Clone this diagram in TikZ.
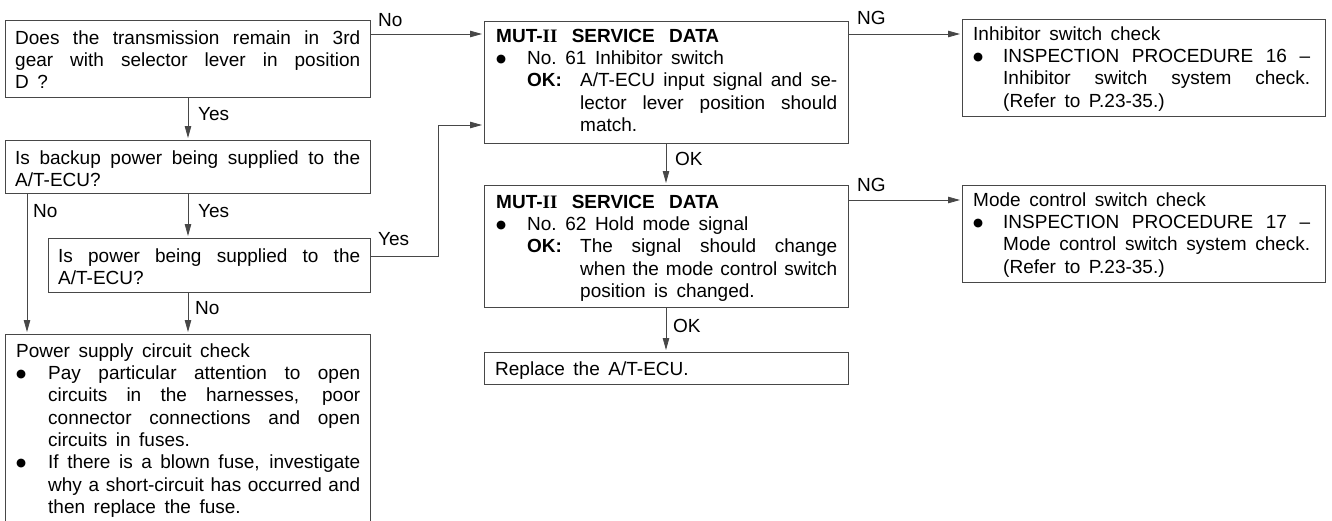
\documentclass[tikz,border=0pt]{standalone}
\usepackage{fontspec}
\setmainfont{Liberation Sans}
\newfontfamily\serifrm{Liberation Serif}
\newfontfamily\dejavu{DejaVu Sans}
\usetikzlibrary{arrows.meta}
\newcommand\jl[2]{{\spaceskip=0.2em plus 1fil minus 0.05em\xspaceskip=\spaceskip\makebox[#1][s]{#2}}}
\newcommand\bulg{\raisebox{2.3pt}{\dejavu\fontsize{11.5}{12}\selectfont ●}}
\newcommand\bl[2]{\makebox[#1][l]{\bulg}#2}
\newcommand\wsp{\spaceskip=0.45em plus 0.2em minus 0.1em\xspaceskip=\spaceskip}
\newcommand\ts{\wsp\rule{0pt}{14pt}}
\newcommand\mut{\textbf{MUT-{\serifrm II} SERVICE DATA}}
\begin{document}
\begin{tikzpicture}[x=1pt,y=-1pt,
  box/.style={draw=black!72, line width=0.8pt, inner sep=0pt, anchor=north west},
  txt/.style={anchor=north west, inner sep=0pt, text width=#1, align=left,
    font=\fontsize{19}{22.3}\selectfont},
  lbl/.style={anchor=base west, inner sep=0pt, font=\fontsize{19}{22.3}\selectfont},
  arr/.style={draw=black!72, line width=0.8pt, shorten >=2pt, -{Triangle[length=12pt,width=6.5pt]}}]
\useasboundingbox (0,0) rectangle (1332,520);

% boxes
\node[box, minimum width=365pt, minimum height=77pt] (b1) at (5,20) {};
\node[box, minimum width=365pt, minimum height=53pt] (b2) at (5,140) {};
\node[box, minimum width=322pt, minimum height=54pt] (b3) at (48,238) {};
\node[box, minimum width=365pt, minimum height=200pt] (pw) at (5,334) {};
\node[box, minimum width=364pt, minimum height=122pt] (b4) at (484,21) {};
\node[box, minimum width=364pt, minimum height=122pt] (b5) at (484,185) {};
\node[box, minimum width=364pt, minimum height=32pt] (b8) at (484,352) {};
\node[box, minimum width=363pt, minimum height=97pt] (b6) at (962,19) {};
\node[box, minimum width=363pt, minimum height=97pt] (b7) at (962,185) {};

% texts
\node[txt=345pt] (t1) at (15,30) {\ts\jl{345pt}{Does the transmission remain in 3rd}\\
  \jl{345pt}{gear with selector lever in position}\\
  D ?};
\node[txt=345pt] (t2) at (15,150) {\ts\jl{345pt}{Is backup power being supplied to the}\\
  A/T-ECU?};
\node[txt=302pt] (t3) at (58,248) {\ts\jl{302pt}{Is power being supplied to the}\\
  A/T-ECU?};
\node[txt=344pt] (tp) at (16,343) {\ts Power supply circuit check\\
  \bl{32pt}{\jl{312pt}{Pay particular attention to open}}\\
  \hspace*{32pt}\jl{312pt}{circuits in the harnesses, poor}\\
  \hspace*{32pt}\jl{312pt}{connector connections and open}\\
  \hspace*{32pt}circuits in fuses.\\
  \bl{32pt}{\jl{312pt}{If there is a blown fuse, investigate}}\\
  \hspace*{32pt}\jl{312pt}{why a short-circuit has occurred and}\\
  \hspace*{32pt}then replace the fuse.};
\node[txt=341pt] (t4) at (496,28) {\ts\jl{223pt}{\mut}\\
  \bl{31pt}{No. 61 Inhibitor switch}\\
  \hspace*{31pt}\makebox[53pt][l]{\textbf{OK:}}\jl{257pt}{A/T-ECU input signal and se-}\\
  \hspace*{84pt}\jl{257pt}{lector lever position should}\\
  \hspace*{84pt}match.};
\node[txt=341pt] (t5) at (496,194) {\ts\jl{223pt}{\mut}\\
  \bl{31pt}{No. 62 Hold mode signal}\\
  \hspace*{31pt}\makebox[53pt][l]{\textbf{OK:}}\jl{257pt}{The signal should change}\\
  \hspace*{84pt}\jl{257pt}{when the mode control switch}\\
  \hspace*{84pt}position is changed.};
\node[txt=341pt] (t8) at (495,361) {\ts Replace the A/T-ECU.};
\node[txt=337pt] (t6) at (973,26) {\ts Inhibitor switch check\\
  \bl{30pt}{\jl{307pt}{INSPECTION PROCEDURE 16 --}}\\
  \hspace*{30pt}\jl{307pt}{Inhibitor switch system check.}\\
  \hspace*{30pt}(Refer to P.23-35.)};
\node[txt=337pt] (t7) at (973,192) {\ts Mode control switch check\\
  \bl{30pt}{\jl{307pt}{INSPECTION PROCEDURE 17 --}}\\
  \hspace*{30pt}\jl{307pt}{Mode control switch system check.}\\
  \hspace*{30pt}(Refer to P.23-35.)};

% helper coordinates
\coordinate (r1) at (0,34);
\coordinate (r2) at (0,125);
\coordinate (r3) at (0,256);
\coordinate (r4) at (0,200);
\coordinate (cA) at (188,0);
\coordinate (cL) at (27,0);
\coordinate (cV) at (438,0);
\coordinate (cM) at (666,0);

% connectors
\draw[arr] (b1.east |- r1) -- (b4.west |- r1);
\draw[arr] (b1.south -| cA) -- (b2.north -| cA);
\draw[arr] (b2.south -| cA) -- (b3.north -| cA);
\draw[arr] (b2.south -| cL) -- (pw.north -| cL);
\draw[arr] (b3.south -| cA) -- (pw.north -| cA);
\draw[arr] (b3.east |- r3) -- (cV |- r3) -- (cV |- r2) -- (b4.west |- r2);
\draw[arr] (b4.south -| cM) -- (b5.north -| cM);
\draw[arr] (b5.south -| cM) -- (b8.north -| cM);
\draw[arr] (b4.east |- r1) -- (b6.west |- r1);
\draw[arr] (b5.east |- r4) -- (b7.west |- r4);

% labels
\node[lbl] (l1) at (378,26) {No};
\node[lbl] (l2) at (857,24) {NG};
\node[lbl] (l3) at (198,120) {Yes};
\node[lbl] (l4) at (198,217) {Yes};
\node[lbl] (l5) at (33,217) {No};
\node[lbl] (l6) at (378,245) {Yes};
\node[lbl] (l7) at (195,314) {No};
\node[lbl] (l8) at (675,165) {OK};
\node[lbl] (l9) at (673,332) {OK};
\node[lbl] (l10) at (857,191) {NG};
\end{tikzpicture}
\end{document}
